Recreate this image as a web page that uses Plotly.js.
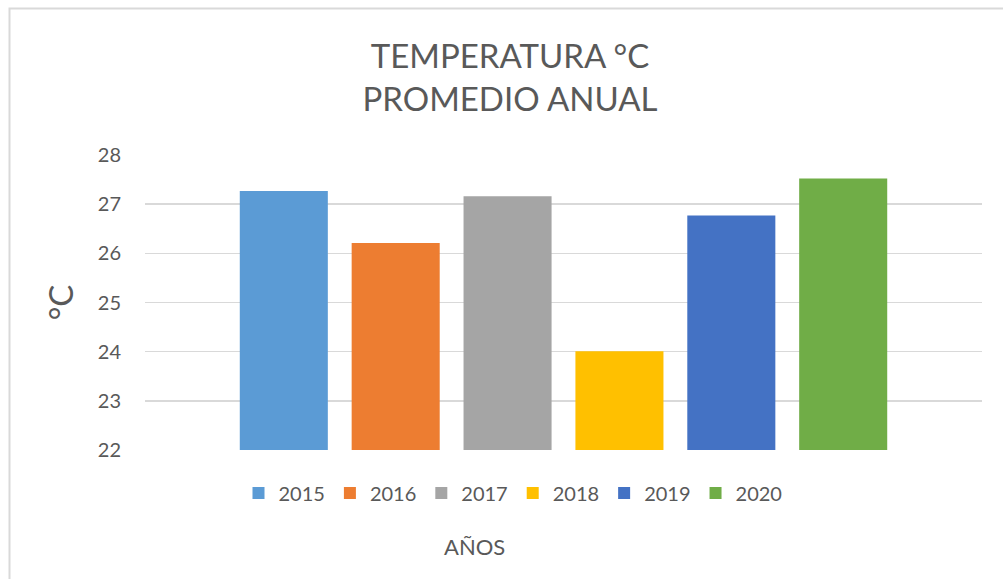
<!DOCTYPE html>
<html>
<head>
<meta charset="utf-8">
<script src="https://cdn.plot.ly/plotly-3.0.1.min.js"></script>
<style>
  html, body { margin: 0; padding: 0; background: #ffffff; }
  #chart { width: 1003px; height: 579px; }
</style>
</head>
<body>
<div id="chart"></div>
<script>
const years = ['2015', '2016', '2017', '2018', '2019', '2020'];
const temps = [27.27, 26.21, 27.16, 24.01, 26.77, 27.52];
const colors = ['#5b9bd5', '#ed7d31', '#a5a5a5', '#ffc000', '#4472c4', '#70ad47'];
const category = ['Promedio anual'];
const yTicks = [22, 23, 24, 25, 26, 27, 28];

const FONT = "Lato, 'Open Sans', sans-serif";
const GREY = '#595959';

const traces = years.map((yr, i) => ({
  type: 'bar',
  name: yr,
  x: category,
  y: [temps[i]],
  marker: { color: colors[i], line: { width: 0 } },
  hoverinfo: 'name+y'
}));

const layout = {
  width: 1003,
  height: 579,
  paper_bgcolor: '#ffffff',
  plot_bgcolor: '#ffffff',
  margin: { l: 145, r: 21, t: 155, b: 129, autoexpand: false },
  font: { family: FONT, color: GREY },
  title: {
    text: 'TEMPERATURA °C<br>PROMEDIO ANUAL',
    font: { family: FONT, size: 33, color: GREY },
    x: 510 / 1003,
    xref: 'container',
    xanchor: 'center',
    y: 1 - 68 / 579,
    yref: 'container',
    yanchor: 'middle'
  },
  barmode: 'group',
  bargap: 0.198,
  bargroupgap: 0.213,
  showlegend: true,
  legend: {
    orientation: 'h',
    x: (513 - 145) / 837,
    xanchor: 'center',
    y: (450 - 493) / 294.7,
    yanchor: 'middle',
    font: { family: FONT, size: 20, color: GREY },
    traceorder: 'normal',
    itemwidth: 30
  },
  xaxis: {
    type: 'category',
    showticklabels: false,
    showgrid: false,
    zeroline: false,
    showline: false,
    ticks: '',
    fixedrange: true
  },
  yaxis: {
    range: [22, 28],
    tickvals: yTicks,
    ticktext: yTicks.map(String),
    tickfont: { family: FONT, size: 20, color: GREY },
    ticklabelstandoff: 23,
    showgrid: true,
    gridcolor: '#d9d9d9',
    gridwidth: 1.5,
    zeroline: false,
    showline: false,
    ticks: '',
    automargin: false,
    title: {
      text: '°C',
      font: { family: FONT, size: 33, color: GREY },
      standoff: 14
    },
    fixedrange: true
  },
  annotations: [{
    text: 'AÑOS',
    xref: 'paper',
    yref: 'paper',
    x: (474 - 145) / 837,
    y: (450 - 546) / 294.7,
    xanchor: 'center',
    yanchor: 'middle',
    showarrow: false,
    font: { family: FONT, size: 22, color: GREY }
  }],
  shapes: [{
    type: 'rect',
    xref: 'paper',
    yref: 'paper',
    x0: (9.5 - 145) / 837,
    x1: 2,
    y0: -2,
    y1: (450 - 9) / 294.7,
    line: { color: '#d9d9d9', width: 2 },
    fillcolor: 'rgba(0,0,0,0)',
    layer: 'below'
  }]
};

Plotly.newPlot('chart', traces, layout, { displayModeBar: false, staticPlot: true });
</script>
</body>
</html>
